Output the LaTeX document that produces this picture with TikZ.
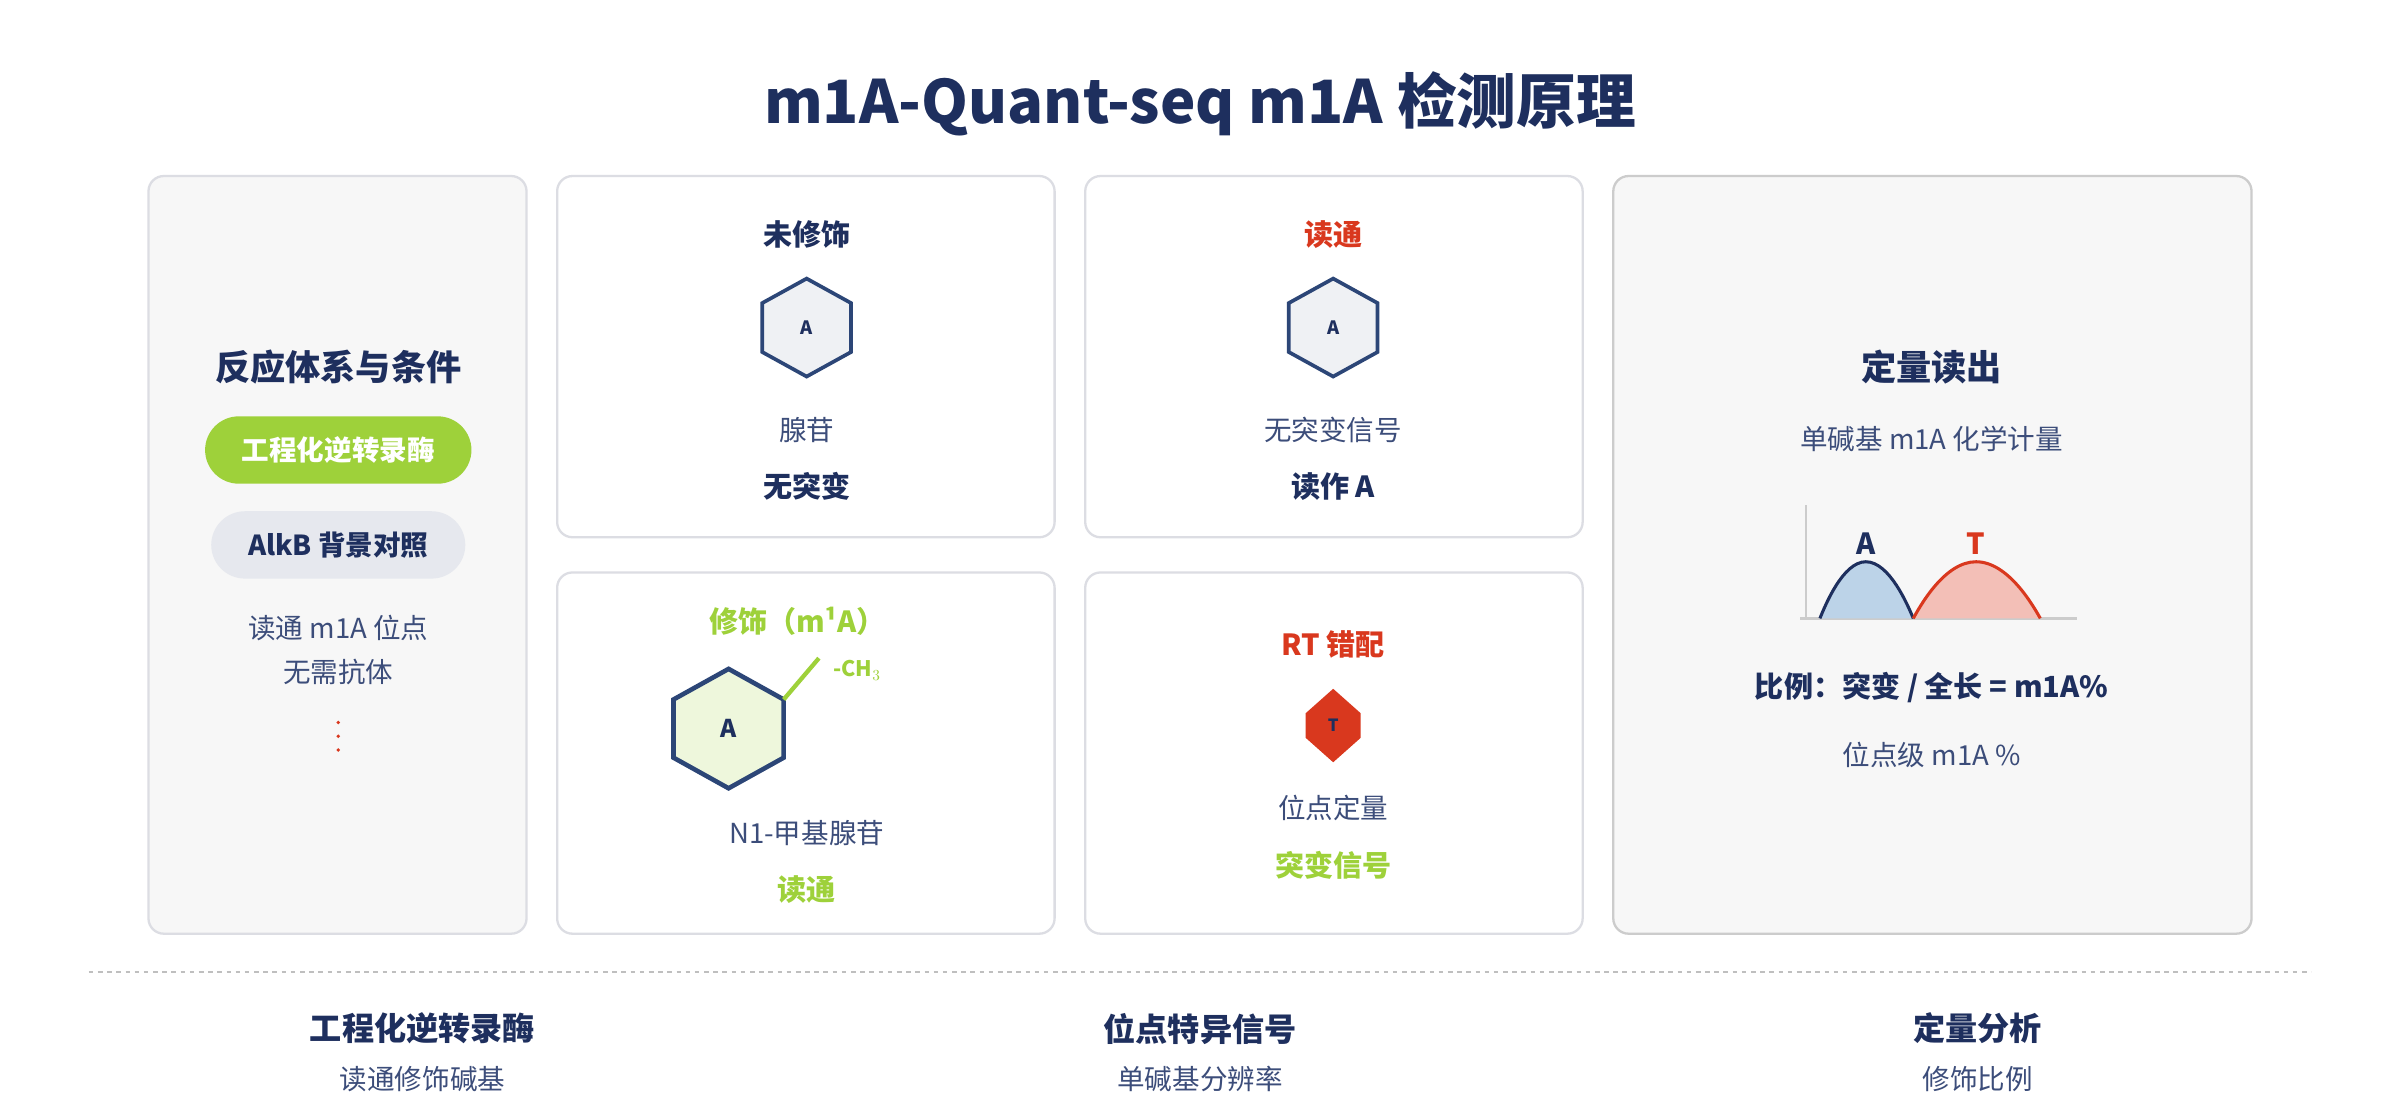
\documentclass[tikz,border=0pt]{standalone}
\usepackage{fontspec}
\setmainfont{Noto Sans CJK SC}
\usepackage{tikz}
\usetikzlibrary{positioning}
\definecolor{navy}{HTML}{1E2F5E}
\definecolor{bodyc}{HTML}{3C4D7A}
\definecolor{mgreen}{HTML}{9ED13A}
\definecolor{mred}{HTML}{D9381E}
\definecolor{panelbd}{HTML}{DCDDE3}
\definecolor{panelbg}{HTML}{F7F7F7}
\definecolor{hexbd}{HTML}{2C4677}
\definecolor{peaka}{HTML}{BCD3E8}

\begin{document}
\begin{tikzpicture}[x=1pt,y=-1pt,
    panel/.style={draw=panelbd, line width=1.5pt, rounded corners=10pt, fill=white},
    head/.style={font=\fontsize{19}{21}\selectfont\bfseries},
    txt/.style={font=\fontsize{18}{20}\selectfont, text=bodyc},
    bold/.style={font=\fontsize{19}{21}\selectfont\bfseries, text=navy},
    pill/.style={rounded corners=22pt, minimum width=#1, minimum height=44pt, font=\fontsize{18}{20}\selectfont\bfseries}]
    \useasboundingbox[fill=white] (0,0) rectangle (1568,731.7);

    % Title
    \node[font=\fontsize{39}{42}\selectfont\bfseries, text=navy] (title) at (784,68) {m1A-Quant-seq m1A 检测原理};

    % Left panel
    \draw[panel, fill=panelbg] (97,115) rectangle (344,610);
    \node[font=\fontsize{23}{25}\selectfont\bfseries, text=navy] (cond) at (221,240) {反应体系与条件};
    \node[pill=174pt, fill=mgreen, text=white] (rt) at (221,294) {工程化逆转录酶};
    \node[pill=166pt, fill=bodyc!13, text=navy] (alkb) at (221,356) {AlkB 背景对照};
    \node[txt] (rd) at (221,410) {读通 m1A 位点};
    \node[txt] (ab) at (221,439) {无需抗体};
    \foreach \dy in {472,481,490}
        \fill[mred] (221,\dy) circle (1.2pt);

    % Unmodified
    \draw[panel] (364,115) rectangle (689,351);
    \node[head, text=navy] (unmod) at (527,153) {未修饰};
    \draw[hexbd, line width=2.4pt, fill=bodyc!8] (527,182) -- (556,198) -- (556,230) -- (527,246) -- (498,230) -- (498,198) -- cycle;
    \node[font=\fontsize{12}{13}\selectfont\bfseries, text=navy] (ua) at (527,214) {A};
    \node[txt] (ade) at (527,281) {腺苷};
    \node[bold] (nomut) at (527,318) {无突变};

    % Read-through
    \draw[panel] (709,115) rectangle (1034,351);
    \node[head, text=mred] (thru) at (871,153) {读通};
    \draw[hexbd, line width=2.4pt, fill=bodyc!8] (871,182) -- (900,198) -- (900,230) -- (871,246) -- (842,230) -- (842,198) -- cycle;
    \node[font=\fontsize{12}{13}\selectfont\bfseries, text=navy] (ta) at (871,214) {A};
    \node[txt] (nosig) at (871,281) {无突变信号};
    \node[bold] (reada) at (871,318) {读作 A};

    % Modified
    \draw[panel] (364,374) rectangle (689,610);
    \node[head, text=mgreen] (mod) at (521,406) {修饰（m¹A）};
    \draw[hexbd, line width=3pt, fill=mgreen!18] (476,437) -- (512,457) -- (512,495) -- (476,515) -- (440,495) -- (440,457) -- cycle;
    \draw[mgreen, line width=2.8pt] (512,457) -- (535,430);
    \node[text=mgreen, font=\fontsize{14}{15}\selectfont\bfseries] (ch) at (560,438) {-CH$_3$};
    \node[font=\fontsize{16}{17}\selectfont\bfseries, text=navy] (ma) at (476,476) {A};
    \node[txt] (n1) at (527,544) {N1-甲基腺苷};
    \node[head, text=mgreen] (mthru) at (527,581) {读通};

    % Mismatch
    \draw[panel] (709,374) rectangle (1034,610);
    \node[head, text=mred] (mis) at (871,421) {RT 错配};
    \fill[mred] (871,450) -- (889,466) -- (889,482) -- (871,498) -- (853,482) -- (853,466) -- cycle;
    \node[font=\fontsize{11}{12}\selectfont\bfseries, text=navy] (tt) at (871,474) {T};
    \node[txt] (quant) at (871,528) {位点定量};
    \node[head, text=mgreen] (mutsig) at (871,565) {突变信号};

    % Readout panel
    \draw[panel, draw=black!20, fill=panelbg] (1054,115) rectangle (1471,610);
    \node[font=\fontsize{23}{25}\selectfont\bfseries, text=navy] (out) at (1262,240) {定量读出};
    \node[txt] (stoich) at (1262,287) {单碱基 m1A 化学计量};
    \draw[black!20, line width=1.5pt] (1180,330) -- (1180,404);
    \draw[black!20, line width=1.5pt] (1176,404) -- (1357,404);
    \fill[peaka] (1189,404) parabola bend (1219,367) (1250,404) -- cycle;
    \fill[mred!32] (1250,404) parabola bend (1291,367) (1333,404) -- cycle;
    \draw[navy, line width=2pt] (1189,404) parabola bend (1219,367) (1250,404);
    \draw[mred, line width=2pt] (1250,404) parabola bend (1291,367) (1333,404);
    \node[head, text=navy] (pa) at (1219,355) {A};
    \node[head, text=mred] (pt) at (1291,355) {T};
    \node[bold] (ratio) at (1262,449) {比例：突变 / 全长 = m1A\%};
    \node[txt] (site) at (1262,493) {位点级 m1A \%};

    % Footer
    \draw[black!25, dashed, line width=1pt] (58,635) -- (1510,635);
    \node[font=\fontsize{21}{23}\selectfont\bfseries, text=navy] (f1) at (276,672) {工程化逆转录酶};
    \node[txt] (f1b) at (276,705) {读通修饰碱基};
    \node[font=\fontsize{21}{23}\selectfont\bfseries, text=navy] (f2) at (784,672) {位点特异信号};
    \node[txt] (f2b) at (784,705) {单碱基分辨率};
    \node[font=\fontsize{21}{23}\selectfont\bfseries, text=navy] (f3) at (1292,672) {定量分析};
    \node[txt] (f3b) at (1292,705) {修饰比例};
\end{tikzpicture}
\end{document}
